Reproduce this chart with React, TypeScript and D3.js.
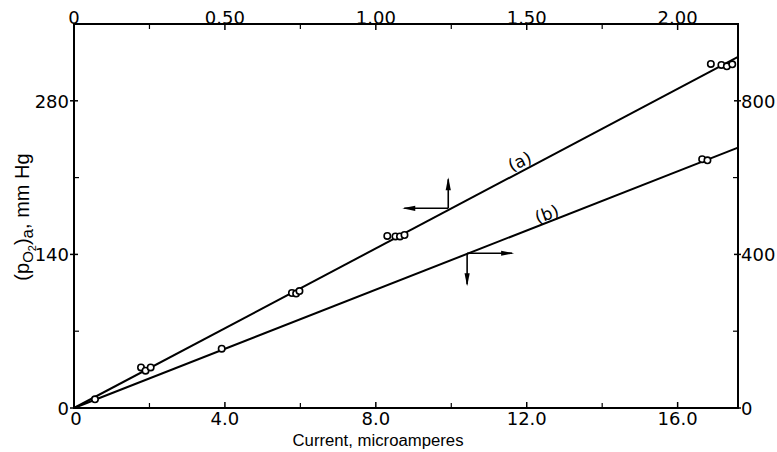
import React from "react";
import * as d3 from "d3";

// Series (a): top axis (x) vs left axis (mm Hg)
const seriesA_x = [0.222, 0.237, 0.254, 0.722, 0.736, 0.747, 1.038, 1.065, 1.08, 1.095, 2.11, 2.145, 2.163, 2.181];
const seriesA_y = [37, 34, 37, 104.8, 104.3, 106.6, 156.8, 156.4, 156.4, 157.7, 313.6, 312.7, 311.4, 313.2];
// Series (b): bottom axis (microamperes) vs right axis
const seriesB_x = [0.556, 3.915, 16.65, 16.79];
const seriesB_y = [22.6, 154.5, 648, 645];
// Fitted lines
const lineA_x = [0, 2.2];
const lineA_y = [0, 320];
const lineB_x = [0, 17.6];
const lineB_y = [0, 678];

const bottomTicks = [0, 4, 8, 12, 16];
const bottomLabels = ["0", "4.0", "8.0", "12.0", "16.0"];
const bottomMinor = [2, 6, 10, 14];
const topTicks = [0, 0.5, 1, 1.5, 2];
const topLabels = ["0", "0.50", "1.00", "1.50", "2.00"];
const topMinor = [0.25, 0.75, 1.25, 1.75];
const leftTicks = [0, 140, 280];
const leftLabels = ["0", "140", "280"];
const leftMinor = [70, 210];
const rightTicks = [0, 400, 800];
const rightLabels = ["0", "400", "800"];
const rightMinor = [200, 600];

const W = 777, H = 452;
const L = 74, R = 738, T = 24, B = 408;
const tickFont = "DejaVu Sans";
const TF = 18;

export default function App() {
  const xB = d3.scaleLinear().domain([0, 17.6]).range([L, R]);
  const xT = d3.scaleLinear().domain([0, 2.2]).range([L, R]);
  const yL = d3.scaleLinear().domain([0, 350]).range([B, T]);
  const yR = d3.scaleLinear().domain([0, 1000]).range([B, T]);

  const lineGen = d3.line<[number, number]>().x(d => d[0]).y(d => d[1]);
  const lineA = lineGen(lineA_x.map((v, i) => [xT(v), yL(lineA_y[i])] as [number, number]));
  const lineB = lineGen(lineB_x.map((v, i) => [xB(v), yR(lineB_y[i])] as [number, number]));

  const cA = [xT(1.24), yL(182)];
  const cB = [xB(10.42), yR(403)];

  const arrowHead = (x: number, y: number, dir: "l" | "r" | "u" | "d") => {
    const len = 13, hw = 2.6;
    let pts: number[][] = [];
    if (dir === "l") pts = [[x, y], [x + len, y - hw], [x + len, y + hw]];
    if (dir === "r") pts = [[x, y], [x - len, y - hw], [x - len, y + hw]];
    if (dir === "u") pts = [[x, y], [x - hw, y + len], [x + hw, y + len]];
    if (dir === "d") pts = [[x, y], [x - hw, y - len], [x + hw, y - len]];
    return <polygon points={pts.map(p => p.join(",")).join(" ")} fill="#000" />;
  };

  const labA = [xT(1.478), yL(224)];
  const labB = [xB(12.54), yR(503)];

  return (
    <svg width={W} height={H} style={{ position: "absolute", left: 0, top: 0, background: "#fff" }}>
      <rect x={0} y={0} width={W} height={H} fill="#fff" />
      {/* frame */}
      <rect x={L} y={T} width={R - L} height={B - T} fill="none" stroke="#000" strokeWidth={2} />

      {/* bottom ticks */}
      {bottomTicks.map((t, i) => (
        <g key={"b" + i}>
          <line x1={xB(t)} x2={xB(t)} y1={B} y2={B - 6} stroke="#000" strokeWidth={1.5} />
          <text x={xB(t) + (i === 0 ? 2 : 0)} y={B + 17} textAnchor="middle" fontFamily={tickFont} fontSize={TF}>{bottomLabels[i]}</text>
        </g>
      ))}
      {bottomMinor.map((t, i) => (
        <line key={"bm" + i} x1={xB(t)} x2={xB(t)} y1={B} y2={B - 5} stroke="#000" strokeWidth={1.2} />
      ))}
      {/* top ticks */}
      {topTicks.map((t, i) => (
        <g key={"t" + i}>
          <line x1={xT(t)} x2={xT(t)} y1={T} y2={T + 6} stroke="#000" strokeWidth={1.5} />
          <text x={xT(t)} y={T} textAnchor="middle" fontFamily={tickFont} fontSize={TF}>{topLabels[i]}</text>
        </g>
      ))}
      {topMinor.map((t, i) => (
        <line key={"tm" + i} x1={xT(t)} x2={xT(t)} y1={T} y2={T + 5} stroke="#000" strokeWidth={1.2} />
      ))}
      {/* left ticks */}
      {leftTicks.map((t, i) => (
        <g key={"l" + i}>
          <line x1={L - 4} x2={L + 4} y1={yL(t)} y2={yL(t)} stroke="#000" strokeWidth={1.5} />
          <text x={L - 5} y={yL(t) + 7} textAnchor="end" fontFamily={tickFont} fontSize={TF}>{leftLabels[i]}</text>
        </g>
      ))}
      {leftMinor.map((t, i) => (
        <line key={"lm" + i} x1={L} x2={L + 5} y1={yL(t)} y2={yL(t)} stroke="#000" strokeWidth={1.2} />
      ))}
      {/* right ticks */}
      {rightTicks.map((t, i) => (
        <g key={"r" + i}>
          <line x1={R - 4} x2={R + 3} y1={yR(t)} y2={yR(t)} stroke="#000" strokeWidth={1.5} />
          <text x={R + 3} y={yR(t) + 7} textAnchor="start" fontFamily={tickFont} fontSize={TF}>{rightLabels[i]}</text>
        </g>
      ))}
      {rightMinor.map((t, i) => (
        <line key={"rm" + i} x1={R - 5} x2={R} y1={yR(t)} y2={yR(t)} stroke="#000" strokeWidth={1.2} />
      ))}

      {/* axis titles */}
      <text x={378} y={446} textAnchor="middle" fontFamily="Liberation Sans" fontSize={16} textLength={171} lengthAdjust="spacingAndGlyphs">Current, microamperes</text>
      <text transform={`translate(29, ${217}) rotate(-90)`} textAnchor="middle" fontFamily="Liberation Sans" fontSize={20}>
        <tspan>(p</tspan>
        <tspan fontSize={15} dy={4}>O</tspan>
        <tspan fontSize={11} dy={3}>2</tspan>
        <tspan dy={-7}>)</tspan>
        <tspan fontSize={17} dy={4}>a</tspan>
        <tspan dy={-4}>, mm Hg</tspan>
      </text>

      {/* lines */}
      <path d={lineA || ""} fill="none" stroke="#000" strokeWidth={2} />
      <path d={lineB || ""} fill="none" stroke="#000" strokeWidth={2} />

      {/* points */}
      {seriesA_x.map((v, i) => (
        <circle key={"pa" + i} cx={xT(v)} cy={yL(seriesA_y[i])} r={3.2} fill="#fff" stroke="#000" strokeWidth={1.6} />
      ))}
      {seriesB_x.map((v, i) => (
        <circle key={"pb" + i} cx={xB(v)} cy={yR(seriesB_y[i])} r={3.2} fill="#fff" stroke="#000" strokeWidth={1.6} />
      ))}

      {/* arrows for (a): left and up */}
      <line x1={cA[0]} y1={cA[1]} x2={cA[0] - 44} y2={cA[1]} stroke="#000" strokeWidth={1.6} />
      {arrowHead(cA[0] - 46, cA[1], "l")}
      <line x1={cA[0]} y1={cA[1]} x2={cA[0]} y2={cA[1] - 29} stroke="#000" strokeWidth={1.6} />
      {arrowHead(cA[0], cA[1] - 31, "u")}
      {/* arrows for (b): right and down */}
      <line x1={cB[0]} y1={cB[1]} x2={cB[0] + 45} y2={cB[1]} stroke="#000" strokeWidth={1.6} />
      {arrowHead(cB[0] + 47, cB[1], "r")}
      <line x1={cB[0]} y1={cB[1]} x2={cB[0]} y2={cB[1] + 31} stroke="#000" strokeWidth={1.6} />
      {arrowHead(cB[0], cB[1] + 33, "d")}

      {/* curve labels */}
      <text transform={`translate(${labA[0]}, ${labA[1]}) rotate(-25)`} textAnchor="middle" dominantBaseline="middle" fontFamily={tickFont} fontSize={17}>(a)</text>
      <text transform={`translate(${labB[0]}, ${labB[1]}) rotate(-20)`} textAnchor="middle" dominantBaseline="middle" fontFamily={tickFont} fontSize={17}>(b)</text>
    </svg>
  );
}
